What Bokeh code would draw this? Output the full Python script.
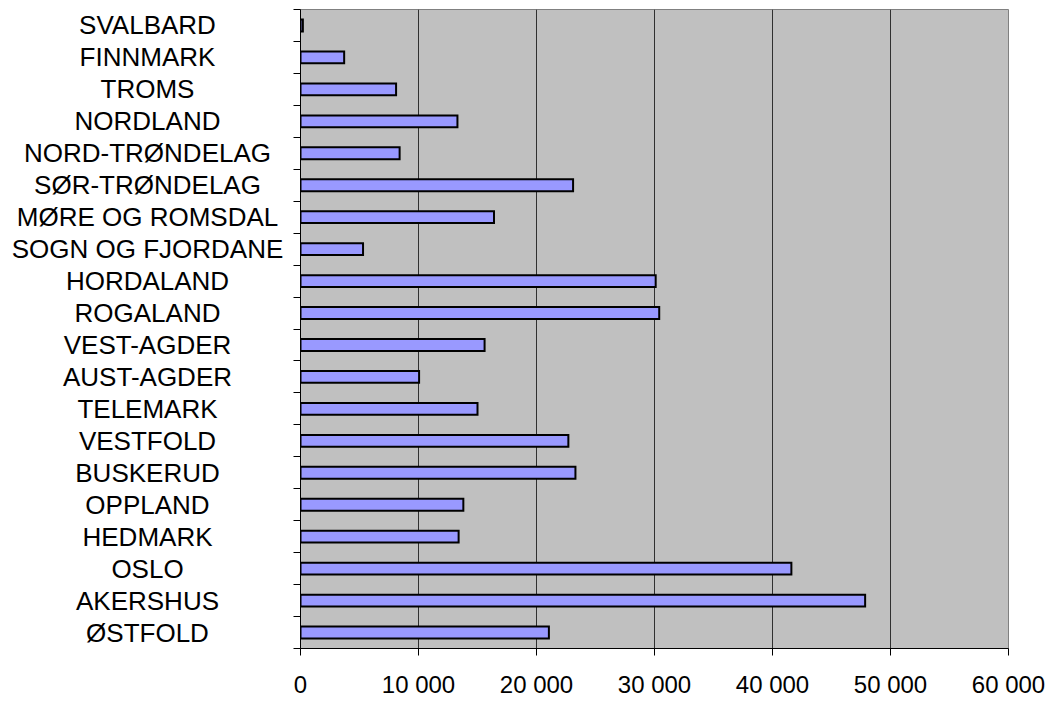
from bokeh.plotting import figure
from bokeh.models import ColumnDataSource, Range1d, FixedTicker
from bokeh.layouts import row
from bokeh.core.properties import value
from bokeh.embed import file_html
from bokeh.resources import INLINE

categories = ["SVALBARD", "FINNMARK", "TROMS", "NORDLAND", "NORD-TRØNDELAG",
              "SØR-TRØNDELAG", "MØRE OG ROMSDAL", "SOGN OG FJORDANE", "HORDALAND",
              "ROGALAND", "VEST-AGDER", "AUST-AGDER", "TELEMARK", "VESTFOLD",
              "BUSKERUD", "OPPLAND", "HEDMARK", "OSLO", "AKERSHUS", "ØSTFOLD"]
values = [200, 3700, 8100, 13300, 8400,
          23100, 16400, 5300, 30100,
          30400, 15600, 10050, 15000, 22700,
          23300, 13800, 13400, 41600, 47850, 21050]
x_ticks = [0, 10000, 20000, 30000, 40000, 50000, 60000]
x_tick_labels = ["0", "10 000", "20 000", "30 000", "40 000", "50 000", "60 000"]

n = len(categories)
ypos = [n - i - 0.5 for i in range(n)]
band_edges = list(range(n + 1))

src = ColumnDataSource(dict(cat=categories, val=values, y=ypos))
yr = Range1d(0, n)

FONT = "Liberation Sans"

p = figure(frame_width=708, frame_height=639, x_range=Range1d(0, 60000), y_range=yr,
           output_backend="svg", toolbar_location=None, tools="",
           min_border_left=10, min_border_right=44, min_border_top=9, min_border_bottom=0,
           background_fill_color="#C0C0C0", border_fill_color="white",
           outline_line_color="#808080", outline_line_width=1)
p.hbar(y="y", left=0, right="val", height=0.37, source=src,
       fill_color="#9999FF", line_color="black", line_width=2, line_join="miter")

p.xaxis.ticker = FixedTicker(ticks=x_ticks)
p.xaxis.major_label_overrides = dict(zip(x_ticks, x_tick_labels))
p.xaxis.major_label_text_font = FONT
p.xaxis.major_label_text_font_size = "24px"
p.xaxis.major_label_text_color = "black"
p.xaxis.major_label_standoff = 15
p.xaxis.major_tick_out = 7
p.xaxis.major_tick_in = 0
p.xaxis.minor_tick_line_color = None
p.xaxis.axis_line_color = "black"
p.xaxis.major_tick_line_color = "black"

p.yaxis.ticker = FixedTicker(ticks=band_edges)
p.yaxis.major_label_overrides = {e: "" for e in band_edges}
p.yaxis.major_label_standoff = 0
p.yaxis.major_tick_out = 7
p.yaxis.major_tick_in = 0
p.yaxis.minor_tick_line_color = None
p.yaxis.axis_line_color = "black"
p.yaxis.major_tick_line_color = "black"

p.xgrid.ticker = FixedTicker(ticks=x_ticks[1:-1])
p.xgrid.grid_line_color = "#303030"
p.xgrid.grid_line_width = 1
p.ygrid.grid_line_color = None

lf = figure(frame_width=290, frame_height=639, x_range=Range1d(0, 290), y_range=yr,
            output_backend="svg", toolbar_location=None, tools="",
            min_border_left=0, min_border_right=0, min_border_top=9, min_border_bottom=0,
            outline_line_color=None, background_fill_color="white", border_fill_color="white")
lf.axis.visible = False
lf.grid.visible = False
lf.text(x=147, y="y", text="cat", source=src, text_align="center", text_baseline="middle",
        text_font=value(FONT), text_font_size="26px", text_color="black")

layout = row(lf, p)
open("out.html", "w").write(file_html(layout, INLINE))
